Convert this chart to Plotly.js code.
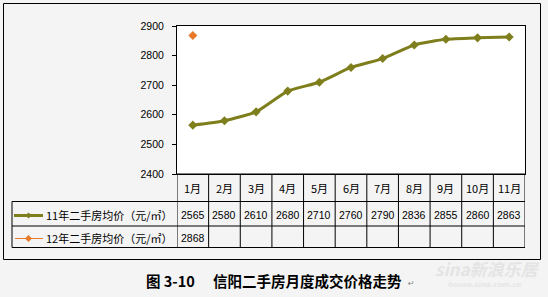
<!DOCTYPE html>
<html><head><meta charset="utf-8">
<script src="https://cdn.plot.ly/plotly-3.0.1.min.js"></script>
<style>html,body{margin:0;padding:0;background:#f4f4f4;}#chart{width:548px;height:297px;}</style>
</head><body><div id="chart"></div>
<script>
// ---- data ----
const months = ['1月','2月','3月','4月','5月','6月','7月','8月','9月','10月','11月'];
const series11Name = '11年二手房均价（元/㎡）';
const series11 = [2565, 2580, 2610, 2680, 2710, 2760, 2790, 2836, 2855, 2860, 2863];
const series12Name = '12年二手房均价（元/㎡）';
const series12 = [2868];
const yTicks = [2400, 2500, 2600, 2700, 2800, 2900];
const captionLabel = '图 3-10';
const captionTitle = '信阳二手房月度成交价格走势';

// ---- layout helpers ----
const W = 548, H = 297;
const px = x => x / W, py = y => 1 - y / H;
const plotL = 177, plotR = 525, plotT = 26, plotB = 174;
const tableL = 12;
const rowY = [174, 201.5, 226, 247.5];
const c11 = '#7e7e1c', c12 = '#e8782a';
const txtFont = {family: 'Liberation Sans, Arial, sans-serif', size: 10.5, color: '#000'};
const cjkFont = {family: 'Noto Sans CJK SC, sans-serif', size: 11, color: '#000'};

const traces = [
  {x: months, y: series11, type: 'scatter', mode: 'lines+markers', name: series11Name,
   line: {color: c11, width: 3, shape: 'spline', smoothing: 0.5},
   marker: {symbol: 'diamond', size: 7, color: c11}},
  {x: months.slice(0, series12.length), y: series12, type: 'scatter', mode: 'markers', name: series12Name,
   marker: {symbol: 'diamond', size: 7, color: c12}}
];

const shapes = [];
const ann = [];
const line = (x0, y0, x1, y1, xref) => shapes.push({type: 'line', xref: xref || 'paper', yref: 'paper',
  x0: x0, y0: y0, x1: x1, y1: y1, line: {color: '#000', width: 1}});
const text = (o) => ann.push(Object.assign({xref: 'paper', yref: 'paper', xanchor: 'center', yanchor: 'middle', showarrow: false}, o));

// outer border
shapes.push({type: 'rect', xref: 'paper', yref: 'paper', x0: px(3.5), y0: py(3.5), x1: px(540.5), y1: py(259.5),
  line: {color: '#000', width: 1}, fillcolor: 'rgba(0,0,0,0)', layer: 'below'});
// table horizontal lines
for (let r = 1; r < rowY.length; r++) line(px(tableL), py(rowY[r]), px(plotR), py(rowY[r]));
line(px(plotL), py(rowY[0]), px(plotR), py(rowY[0]));
// table left border
line(px(tableL), py(rowY[1]), px(tableL), py(rowY[3]));
// column dividers
for (let i = 0; i <= months.length; i++) line(i - 0.5, py(rowY[0]), i - 0.5, py(rowY[3]), 'x');

// header row and values
months.forEach((m, i) => {
  text({x: m, xref: 'x', y: py(187.5), text: m, font: cjkFont});
  text({x: m, xref: 'x', y: py(214.5), text: String(series11[i]), font: txtFont});
  if (i < series12.length)
    text({x: m, xref: 'x', y: py(237.5), text: String(series12[i]), font: txtFont});
});

// legend keys
line(px(14), py(215.5), px(43), py(215.5));
shapes[shapes.length - 1].line = {color: c11, width: 3};
line(px(15), py(238.5), px(43), py(238.5));
shapes[shapes.length - 1].line = {color: c12, width: 1};
const diamond = (cx, cy, r, col) => shapes.push({type: 'path', xref: 'paper', yref: 'paper',
  path: `M ${px(cx - r)} ${py(cy)} L ${px(cx)} ${py(cy - r)} L ${px(cx + r)} ${py(cy)} L ${px(cx)} ${py(cy + r)} Z`,
  fillcolor: col, line: {color: col, width: 0}});
diamond(28.5, 215.5, 3, c11);
diamond(28.5, 238.5, 3.5, c12);
text({x: px(44), y: py(214.5), xanchor: 'left', text: series11Name, font: cjkFont});
text({x: px(44), y: py(237.5), xanchor: 'left', text: series12Name, font: cjkFont});

// caption
const capFont = {family: 'Noto Sans CJK SC, sans-serif', size: 14.5, color: '#000'};
text({x: px(144), y: py(280), xanchor: 'left', text: '<b>' + captionLabel + '</b>', font: capFont});
text({x: px(211), y: py(280), xanchor: 'left', text: '<b>' + captionTitle + '</b>', font: capFont});
text({x: px(406), y: py(283), xanchor: 'left', text: '↵', font: {family: 'DejaVu Sans, sans-serif', size: 8, color: '#888'}});
// watermark
text({x: px(487), y: py(268), text: '<i><b>sina新浪乐居</b></i>',
  font: {family: 'Noto Sans CJK SC, sans-serif', size: 17, color: '#e4e4e4'}});
text({x: px(484), y: py(285), text: '<i><b>house.sina.com.cn</b></i>',
  font: {family: 'DejaVu Sans, sans-serif', size: 7, color: '#e6e6e6'}});

const layout = {
  width: W, height: H,
  margin: {l: 0, r: 0, t: 0, b: 0},
  paper_bgcolor: '#f4f4f4', plot_bgcolor: '#ffffff',
  showlegend: false,
  xaxis: {domain: [px(plotL), px(plotR)], type: 'category', range: [-0.5, months.length - 0.5],
    showticklabels: false, ticks: '', showgrid: false, zeroline: false,
    showline: true, mirror: true, linecolor: '#000', linewidth: 1, fixedrange: true},
  yaxis: {domain: [py(plotB), py(plotT)], range: [yTicks[0], yTicks[yTicks.length - 1]],
    tickvals: yTicks, ticktext: yTicks.map(String), ticks: 'outside', ticklen: 4, tickcolor: '#000',
    ticklabelstandoff: 6,
    showgrid: false, zeroline: false, showline: true, mirror: true, linecolor: '#000', linewidth: 1,
    tickfont: txtFont, fixedrange: true},
  shapes: shapes,
  annotations: ann
};
Plotly.newPlot('chart', traces, layout, {displayModeBar: false, staticPlot: true});
</script>
</body></html>
